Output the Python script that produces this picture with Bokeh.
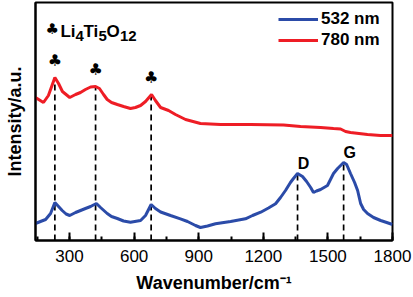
from bokeh.plotting import figure
from bokeh.models import Range1d, SingleIntervalTicker, FixedTicker, Legend, LegendItem, Label
from bokeh.core.properties import value
from bokeh.embed import file_html
from bokeh.resources import INLINE

# ---- data ----
wn_red = [142, 179, 202, 232, 249, 267, 301, 328, 351, 374, 398, 421, 439, 458, 475,
          495, 522, 551, 583, 606, 630, 653, 681, 699, 723, 760, 792, 839, 908, 1001,
          1141, 1294, 1373, 1466, 1526, 1559, 1582, 1605, 1684, 1744, 1800]
int_red = [143, 138, 145, 163, 157, 149, 143, 146, 148, 151, 153.5, 154, 152, 146, 141,
           138, 136, 134, 132, 133, 135, 139, 146, 140, 133, 130, 126, 121, 117, 116,
           116, 115.5, 114, 113, 112, 111.5, 109, 108, 106, 105, 105]

wn_blue = [142, 165, 189, 212, 232, 249, 266, 284, 301, 328, 351, 374, 398, 411, 425,
           444, 475, 495, 522, 551, 583, 630, 653, 679, 699, 723, 769, 815, 848, 885,
           908, 941, 978, 1048, 1117, 1150, 1188, 1224, 1257, 1280, 1303, 1326, 1340, 1359, 1382,
           1401, 1420, 1433, 1447, 1466, 1498, 1526, 1545, 1559, 1573, 1587, 1605, 1624, 1638, 1652,
           1666, 1684, 1712, 1745, 1773, 1800]
int_blue = [17, 19, 21, 27, 38, 34, 30, 26.5, 25, 28, 30, 32, 34, 35.5, 37,
            33, 27, 24, 22, 19.5, 18.3, 20, 25, 36, 32, 28.5, 25, 21.7, 19, 15,
            13, 14.5, 16.7, 19, 21.7, 25, 28.3, 32.5, 36.7, 43, 50, 58, 62, 67, 64,
            59, 53, 48, 49.5, 51, 55, 67, 72, 75, 78, 76, 67, 58, 50, 37,
            31, 27, 23, 20, 18, 16]

lto_peaks = [232, 421, 679]
lto_heights = [163, 154, 146]
carbon_peaks = [1359, 1573]
carbon_heights = [67, 78]
carbon_names = ["D", "G"]
series_names = ["532 nm", "780 nm"]
x_ticks_interval = 300

FONT = "Liberation Sans"
BLUE = "#2B4BA8"
RED = "#EE1D25"

p = figure(width=413, height=297, x_range=Range1d(142, 1800), y_range=Range1d(0, 238),
           output_backend="svg", toolbar_location=None,
           min_border_left=35, min_border_right=21, min_border_top=2, min_border_bottom=57)
p.background_fill_color = "white"
p.border_fill_color = "white"
p.grid.visible = False
p.outline_line_color = "black"
p.outline_line_width = 2
p.outline_line_alpha = 1

# x axis
xa = p.xaxis[0]
xa.ticker = SingleIntervalTicker(interval=x_ticks_interval, num_minor_ticks=2)
xa.axis_line_width = 2
xa.major_tick_in = 8
xa.major_tick_out = 0
xa.minor_tick_in = 4
xa.minor_tick_out = 0
xa.major_tick_line_width = 2
xa.minor_tick_line_width = 2
xa.major_label_text_font = FONT
xa.major_label_text_font_size = "17px"
xa.major_label_text_color = "black"
xa.major_label_standoff = 9
xa.axis_label = "Wavenumber/cm\u207b\u00b9"
xa.axis_label_text_font = FONT
xa.axis_label_text_font_size = "18px"
xa.axis_label_text_font_style = "bold"
xa.axis_label_text_color = "black"
xa.axis_label_standoff = 8

# y axis
ya = p.yaxis[0]
ya.ticker = FixedTicker(ticks=[])
ya.axis_line_width = 2
ya.major_tick_line_color = None
ya.minor_tick_line_color = None
ya.major_label_text_font_size = "0px"
ya.axis_label = "Intensity/a.u."
ya.axis_label_text_font = FONT
ya.axis_label_text_font_size = "18px"
ya.axis_label_text_font_style = "bold"
ya.axis_label_text_color = "black"
ya.axis_label_standoff = 11

# dashed peak markers
p.segment(x0=lto_peaks, y0=[0] * len(lto_peaks), x1=lto_peaks, y1=lto_heights,
          line_color="black", line_width=1.7, line_dash="6 4")
p.segment(x0=carbon_peaks, y0=[0] * len(carbon_peaks), x1=carbon_peaks, y1=carbon_heights,
          line_color="black", line_width=1.7, line_dash="6 4")

# spectra
r_blue = p.line(wn_blue, int_blue, line_color=BLUE, line_width=3)
r_red = p.line(wn_red, int_red, line_color=RED, line_width=3)

# club symbols above the LTO peaks
p.text(x=lto_peaks, y=[h + 17 for h in lto_heights], text=["\u2663"] * len(lto_peaks),
       text_font=value("DejaVu Sans"), text_font_size="16px", text_align="center",
       text_baseline="middle", text_color="black")

# D / G labels
p.text(x=[x + 28 for x in carbon_peaks], y=[h + 10 for h in carbon_heights], text=carbon_names,
       text_font=value(FONT), text_font_size="16px", text_font_style="bold",
       text_align="center", text_baseline="alphabetic", text_color="black")

# Li4Ti5O12 label (pieces for subscripts)
pieces = [("\u2663", 188, 212, "15px", "DejaVu Sans"),
          ("Li", 258, 209, "17px", FONT), ("4", 328, 205, "15px", FONT),
          ("Ti", 365, 209, "17px", FONT), ("5", 435, 205, "15px", FONT),
          ("O", 472, 209, "17px", FONT), ("12", 534, 205, "15px", FONT)]
for t, x, y, fs, fnt in pieces:
    p.add_layout(Label(x=x, y=y, text=t, text_font=fnt, text_font_size=fs,
                       text_font_style="bold", text_color="black",
                       text_align="left", text_baseline="alphabetic"))

legend = Legend(items=[LegendItem(label=series_names[0], renderers=[r_blue]),
                       LegendItem(label=series_names[1], renderers=[r_red])],
                location="top_right")
legend.border_line_color = None
legend.background_fill_alpha = 0
legend.label_text_font = FONT
legend.label_text_font_size = "17px"
legend.label_text_font_style = "bold"
legend.label_text_color = "black"
legend.glyph_width = 40
legend.glyph_height = 20
legend.label_height = 20
legend.label_width = 64
legend.spacing = 1
legend.margin = 7
legend.padding = 8
legend.label_standoff = 3
p.add_layout(legend)

open("out.html", "w").write(file_html(p, INLINE))
